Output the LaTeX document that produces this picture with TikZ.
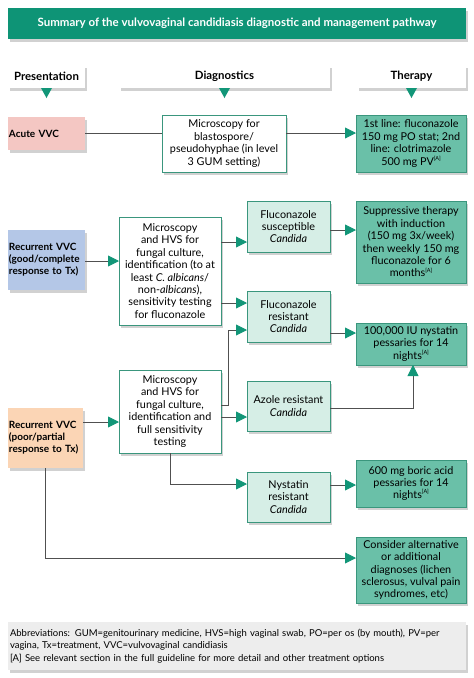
\documentclass[tikz,border=0pt]{standalone}
\usepackage{fontspec}
\setmainfont{Lato}
\usetikzlibrary{arrows.meta,shadows,calc}
\definecolor{titleg}{RGB}{14,148,118}
\definecolor{therg}{RGB}{106,192,168}
\definecolor{lightg}{RGB}{214,238,230}
\definecolor{bordg}{RGB}{58,150,125}
\definecolor{arrg}{RGB}{18,150,120}
\definecolor{pinkc}{RGB}{244,199,195}
\definecolor{bluec}{RGB}{180,199,231}
\definecolor{peachc}{RGB}{251,213,181}
\definecolor{abbrc}{RGB}{237,237,237}
\definecolor{linec}{RGB}{80,80,80}
\newcommand\supA{\raisebox{0.9ex}{\fontsize{5.5}{5.5}\selectfont[A]}}
\newcommand\flowbox[7]{%
  \node[#2, minimum width={(#5-#3)*1pt}, minimum height={(#6-#4)*1pt}]
    (#1) at ({(#3+#5)/2},{(#4+#6)/2}) {#7};}
\tikzset{
  shad/.style={drop shadow={shadow xshift=2pt,shadow yshift=-2.5pt,opacity=0.3,fill=black!60}},
  base/.style={inner sep=1pt, outer sep=0pt, align=center, font=\fontsize{10.8}{12.4}\selectfont},
  diagbox/.style={base, shad, fill=white, draw=bordg, line width=0.8pt},
  resbox/.style={base, shad, fill=lightg, draw=bordg, line width=0.8pt},
  therbox/.style={base, shad, fill=therg, draw=bordg, line width=0.8pt},
  presbox/.style={base, shad, align=left, text width={#1}, font=\bfseries\fontsize{10}{12}\selectfont},
  headbox/.style={base, shad, fill=white, font=\bfseries\fontsize{11.4}{13}\selectfont},
  conn/.style={draw=linec, line width=0.9pt},
  arr/.style={conn, arrows={-{Triangle[length=11pt,width=11pt,color=arrg,fill=arrg]}}},
}
\begin{document}
\begin{tikzpicture}[x=1pt,y=-1pt]
\useasboundingbox (0,0) rectangle (474,678);
% title
\flowbox{title}{base,shad,fill=titleg,text=white,font=\bfseries\fontsize{11.5}{13}\selectfont}{8}{8}{466}{39}{Summary of the vulvovaginal candidiasis diagnostic and management pathway}
% headers
\flowbox{hpres}{headbox}{8}{65}{85}{88}{Presentation}
\flowbox{hdiag}{headbox}{119}{65}{330}{88}{Diagnostics}
\flowbox{hther}{headbox}{357}{65}{466}{88}{Therapy}
\foreach \h in {hpres,hdiag,hther}{
  \fill[arrg] ([xshift=-5.5pt]\h.south) -- ([xshift=5.5pt]\h.south) -- ([yshift=-10pt]\h.south) -- cycle;
}
% presentation
\flowbox{acute}{presbox=75pt,fill=pinkc}{8}{117}{85}{150}{Acute VVC}
\flowbox{recgood}{presbox=75pt,fill=bluec}{8}{230}{85}{290}{Recurrent VVC\\(good/complete\\response to Tx)}
\flowbox{recpoor}{presbox=73pt,fill=peachc}{8}{408}{83}{468}{Recurrent VVC\\(poor/partial\\response to Tx)}
% diagnostics
\flowbox{micro1}{diagbox}{162}{115}{286}{172}{Microscopy for\\blastospore/\\pseudohyphae (in level\\3 GUM setting)}
\flowbox{micro2}{diagbox}{119}{217}{221}{325}{Microscopy\\and HVS for\\fungal culture,\\identification (to at\\least \textit{C. albicans}/\\non-\textit{albicans}),\\sensitivity testing\\for fluconazole}
\flowbox{micro3}{diagbox}{119}{370}{221}{453}{Microscopy\\and HVS for\\fungal culture,\\identification and\\full sensitivity\\testing}
% results
\flowbox{flucS}{resbox}{247}{201}{330}{252}{Fluconazole\\susceptible\\\textit{Candida}}
\flowbox{flucR}{resbox}{247}{291}{330}{342}{Fluconazole\\resistant\\\textit{Candida}}
\flowbox{azole}{resbox}{247}{381}{330}{431}{Azole resistant\\\textit{Candida}}
\flowbox{nystR}{resbox}{247}{472}{330}{522}{Nystatin\\resistant\\\textit{Candida}}
% therapy
\flowbox{ther1}{therbox}{356}{115}{466}{172}{1st line: fluconazole\\150 mg PO stat; 2nd\\line: clotrimazole\\500 mg PV\supA}
\flowbox{supp}{therbox}{356}{201}{466}{283}{Suppressive therapy\\with induction\\(150 mg 3x/week)\\then weekly 150 mg\\fluconazole for 6\\months\supA}
\flowbox{nyst}{therbox}{356}{323}{466}{365}{100,000 IU nystatin\\pessaries for 14\\nights\supA}
\flowbox{boric}{therbox}{356}{460}{466}{507}{600 mg boric acid\\pessaries for 14\\nights\supA}
\flowbox{consider}{therbox}{356}{537}{466}{603}{Consider alternative\\or additional\\diagnoses (lichen\\sclerosus, vulval pain\\syndromes, etc)}
% abbreviations
\flowbox{abbr}{base,shad,fill=abbrc,align=left,text width=454pt,font=\fontsize{9.5}{12.3}\selectfont}{8}{622}{466}{670}{Abbreviations: GUM=genitourinary medicine, HVS=high vaginal swab, PO=per os (by mouth), PV=per\\vagina, Tx=treatment, VVC=vulvovaginal candidiasis\\[1pt]
[A] See relevant section in the full guideline for more detail and other treatment options}
% connectors
\draw[conn] (acute.east |- 0,133) -- (micro1.west |- 0,133);
\draw[arr] (micro1.east |- 0,133) -- (ther1.west |- 0,133);
\draw[arr] (recgood.east |- 0,261) -- (micro2.west |- 0,261);
\draw[arr] (micro2.east |- 0,242) -- (flucS.west |- 0,242);
\draw[arr] (flucS.east |- 0,230) -- (supp.west |- 0,230);
\draw[arr] (micro2.east |- 0,303) -- (flucR.west |- 0,303);
\draw[arr] (micro3.east |- 0,405) -- (228,405) -- (228,330) -- (flucR.west |- 0,330);
\draw[arr] (flucR.east |- 0,333) -- (nyst.west |- 0,333);
\draw[arr] (recpoor.east |- 0,422) -- (micro3.west |- 0,422);
\draw[arr] (micro3.east |- 0,417) -- (azole.west |- 0,417);
\draw[arr] (azole.east |- 0,408) -- (413,408) -- (nyst.south -| 413,0);
\draw[arr] (micro3.south -| 170,0) -- (170,484) -- (nystR.west |- 0,484);
\draw[arr] (nystR.east |- 0,485) -- (boric.west |- 0,485);
\draw[arr] (recpoor.south -| 45,0) -- (45,558) -- (consider.west |- 0,558);
\end{tikzpicture}
\end{document}
